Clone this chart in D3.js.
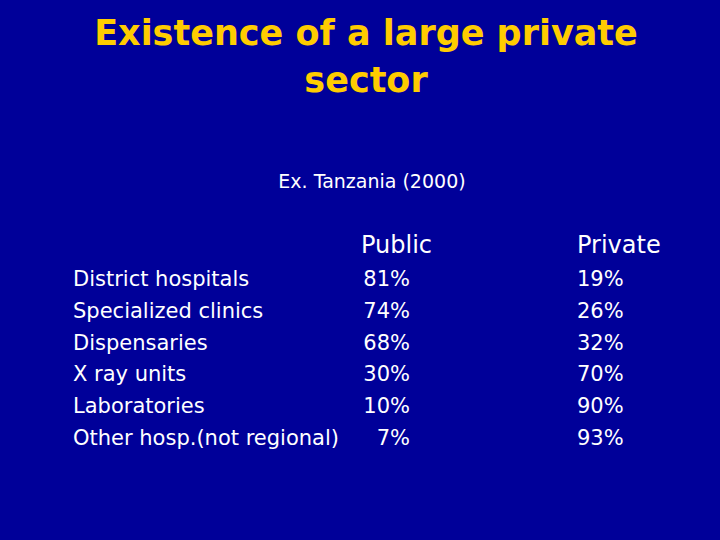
<!DOCTYPE html><html><head><meta charset="utf-8"><script src="https://cdn.jsdelivr.net/npm/d3@7"></script>
<style>body{margin:0;background:#000099}</style></head><body><script>
const categories=["District hospitals","Specialized clinics","Dispensaries","X ray units","Laboratories","Other hosp.(not regional)"];
const publicVals=[81,74,68,30,10,7];
const privateVals=[19,26,32,70,90,93];
const headers=["Public","Private"];
const svg=d3.select("body").append("svg").attr("width",720).attr("height",540);
svg.append("rect").attr("width",720).attr("height",540).attr("fill","#000099");
const f="'DejaVu Sans', Verdana, sans-serif";
const t=svg.append("text").attr("font-family",f).attr("font-weight","bold").attr("font-size",35).attr("fill","#FFCC00").attr("text-anchor","middle").attr("textLength",null);
t.append("tspan").attr("x",366).attr("y",45).text("Existence of a large private");
t.append("tspan").attr("x",366).attr("y",92).text("sector");
svg.append("text").attr("x",372).attr("y",188).attr("text-anchor","middle").attr("font-family",f).attr("font-size",19).attr("fill","#fff").text("Ex. Tanzania (2000)");
svg.selectAll(".h").data(headers).join("text").attr("x",(d,i)=>i?577:361).attr("y",253).attr("font-family",f).attr("font-size",24).attr("fill","#fff").text(d=>d);
const y=d3.scalePoint().domain(categories).range([286,445]);
const g=svg.append("g").attr("font-family",f).attr("font-size",21).attr("fill","#fff");
g.selectAll(".c").data(categories).join("text").attr("x",73).attr("y",d=>y(d)).text(d=>d);
g.selectAll(".p").data(publicVals).join("text").attr("x",410).attr("text-anchor","end").attr("y",(d,i)=>y(categories[i])).text(d=>d+"%");
g.selectAll(".q").data(privateVals).join("text").attr("x",577).attr("y",(d,i)=>y(categories[i])).text(d=>d+"%");
</script></body></html>
